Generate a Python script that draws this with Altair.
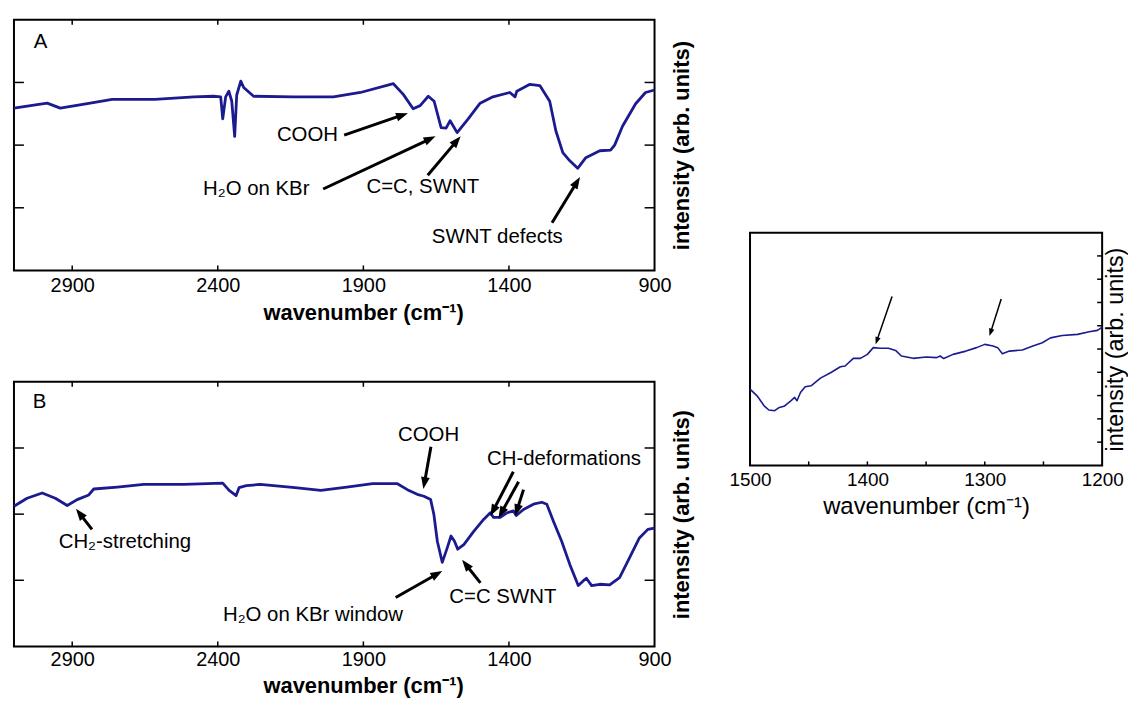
import math
import altair as alt
import pandas as pd

FONT = "Liberation Sans"
LINE_COLOR = "#1b1b8f"

# ---------------- Panel A spectrum ----------------
A_WN = [3100, 2986, 2941, 2838, 2763, 2616, 2482, 2414, 2390, 2383, 2373, 2362, 2352, 2342,
        2335, 2321, 2311, 2277, 2140, 2003, 1910, 1797, 1763, 1729, 1705, 1677, 1657, 1633,
        1616, 1602, 1578, 1540, 1499, 1455, 1397, 1379, 1373, 1328, 1294, 1260, 1239, 1215,
        1191, 1164, 1136, 1088, 1051, 1037, 1010, 965, 931, 900]
A_VAL = [2.59, 2.67, 2.59, 2.67, 2.73, 2.73, 2.77, 2.78, 2.77, 2.42, 2.77, 2.86, 2.70, 2.14,
         2.80, 3.02, 2.92, 2.78, 2.77, 2.77, 2.84, 2.98, 2.81, 2.58, 2.63, 2.78, 2.70, 2.28,
         2.27, 2.39, 2.20, 2.42, 2.67, 2.77, 2.84, 2.77, 2.86, 2.97, 2.95, 2.70, 2.23, 1.88,
         1.75, 1.63, 1.80, 1.91, 1.92, 2.00, 2.30, 2.66, 2.84, 2.88]
A_TEXT = ["A", "COOH", "H\u2082O on KBr", "C=C, SWNT", "SWNT defects"]
A_TEXT_WN = [3009, 2092, 2268, 1696, 1440]
A_TEXT_VAL = [3.65, 2.16, 1.30, 1.33, 0.54]
A_ARROW_TAIL_WN = [1966, 2038, 1679, 1252]
A_ARROW_TAIL_VAL = [2.16, 1.30, 1.52, 0.76]
A_ARROW_HEAD_WN = [1747, 1652, 1566, 1156]
A_ARROW_HEAD_VAL = [2.51, 2.14, 2.14, 1.49]

# ---------------- Panel B spectrum ----------------
B_WN = [3100, 3055, 3003, 2958, 2917, 2883, 2843, 2826, 2745, 2654, 2516, 2383, 2361, 2337,
        2327, 2302, 2254, 2135, 2046, 1957, 1868, 1840, 1783, 1749, 1715, 1692, 1669, 1658,
        1646, 1629, 1612, 1599, 1587, 1576, 1555, 1521, 1487, 1464, 1453, 1430, 1407, 1385,
        1375, 1350, 1316, 1287, 1270, 1247, 1219, 1191, 1162, 1145, 1134, 1116, 1088, 1054,
        1020, 986, 952, 923, 900]
B_VAL = [2.12, 2.24, 2.32, 2.24, 2.13, 2.22, 2.29, 2.38, 2.41, 2.45, 2.45, 2.47, 2.36, 2.28,
         2.40, 2.43, 2.45, 2.40, 2.36, 2.41, 2.46, 2.46, 2.46, 2.37, 2.30, 2.27, 2.22, 2.00,
         1.59, 1.27, 1.49, 1.67, 1.59, 1.47, 1.54, 1.74, 1.92, 2.02, 1.95, 1.95, 2.02, 2.05,
         1.98, 2.07, 2.15, 2.18, 2.15, 1.89, 1.59, 1.24, 0.92, 0.99, 1.03, 0.92, 0.94, 0.93,
         1.04, 1.34, 1.64, 1.77, 1.79]
B_TEXT = ["B", "COOH", "CH-deformations", "CH\u2082-stretching", "H\u2082O on KBr window", "C=C SWNT"]
B_TEXT_WN = [3012, 1676, 1211, 2719, 2073, 1421]
B_TEXT_VAL = [3.70, 3.20, 2.84, 1.58, 0.48, 0.74]
B_ARROW_TAIL_WN = [1668, 1385, 1367, 1350, 2832, 1789, 1498]
B_ARROW_TAIL_VAL = [3.02, 2.64, 2.49, 2.37, 1.77, 0.74, 0.96]
B_ARROW_HEAD_WN = [1694, 1464, 1436, 1379, 2887, 1629, 1561]
B_ARROW_HEAD_VAL = [2.38, 1.97, 1.94, 1.97, 2.08, 1.14, 1.31]

# ---------------- Inset spectrum ----------------
I_WN = [1500, 1494, 1488, 1484, 1479, 1475, 1471, 1465, 1462, 1460, 1457, 1453, 1448, 1440,
        1431, 1423, 1419, 1412, 1406, 1400, 1395, 1389, 1382, 1376, 1371, 1361, 1350, 1341,
        1338, 1335, 1327, 1316, 1307, 1300, 1293, 1289, 1285, 1279, 1268, 1259, 1251, 1244,
        1234, 1221, 1211, 1204, 1200]
I_VAL = [3.28, 2.99, 2.56, 2.38, 2.35, 2.49, 2.54, 2.78, 2.92, 2.78, 3.13, 3.38, 3.42, 3.75,
         3.99, 4.24, 4.27, 4.60, 4.60, 4.77, 5.06, 5.03, 5.03, 4.94, 4.70, 4.60, 4.66, 4.63,
         4.70, 4.59, 4.77, 4.91, 5.06, 5.20, 5.13, 5.06, 4.80, 4.91, 4.96, 5.13, 5.27, 5.48,
         5.58, 5.63, 5.74, 5.80, 5.94]
I_ARROW_TAIL_WN = [1379, 1286]
I_ARROW_TAIL_VAL = [7.26, 7.15]
I_ARROW_HEAD_WN = [1393, 1296]
I_ARROW_HEAD_VAL = [5.20, 5.56]

# ---------------- axes ----------------
AB_XDOMAIN = [900, 3100]
AB_YDOMAIN = [0, 4]
AB_XLABELS = [2900, 2400, 1900, 1400, 900]
AB_XTICKS = [2900, 2400, 1900, 1400]
AB_YTICKS = [1, 2, 3]
I_XDOMAIN = [1200, 1500]
I_YDOMAIN = [0, 10]
I_XLABELS = [1500, 1400, 1300, 1200]
I_XTICKS = [1450, 1400, 1350, 1300, 1250]
I_YTICKS = [1, 2, 3, 4, 5, 6, 7, 8, 9]

X_TITLE = "wavenumber (cm\u207b\u00b9)"
Y_TITLE = "intensity (arb. units)"

ARROW_PATH = "M0,0L0.55,1.5L-0.55,1.5Z"


def arrow_frame(tw, tv, hw, hv, xdom, ydom, W, H, back):
    kx = W / (xdom[1] - xdom[0])
    ky = H / (ydom[1] - ydom[0])
    rows = []
    for a, b, c, d in zip(tw, tv, hw, hv):
        dx = -(c - a) * kx
        dy = -(d - b) * ky
        L = math.hypot(dx, dy)
        ang = math.degrees(math.atan2(dx, -dy)) % 360
        f = back / L
        rows.append({"wn": a, "v": b, "wn_end": c + (a - c) * f, "v_end": d + (b - d) * f,
                     "hx": c, "hy": d, "ang": ang})
    return pd.DataFrame(rows)


def panel(wn, val, texts, tw, tv, hw, hv, xdom, ydom, W, H, xlabels, xticks, yticks,
          bold, line_w, label_fs, x_title_fs, y_title_fs, text_fs, shaft_w, head_size, back,
          xt_len, yt_len, left_ticks, top_ticks, y_title_pad, x_label_pad, x_title_pad,
          x_title_x):
    weight = "bold" if bold else "normal"
    xs = alt.Scale(domain=xdom, reverse=True, nice=False, zero=False)
    ys = alt.Scale(domain=ydom, nice=False, zero=False)
    xaxis = alt.Axis(values=xlabels, ticks=False, domain=False, grid=False, labelFlush=False,
                     labelFontSize=label_fs, labelFont=FONT, labelColor="black",
                     labelPadding=x_label_pad, format="d",
                     title=X_TITLE, titleFont=FONT, titleFontSize=x_title_fs,
                     titleFontWeight=weight, titleColor="black", titlePadding=x_title_pad,
                     titleX=x_title_x)
    yaxis = alt.Axis(orient="right", labels=False, ticks=False, domain=False, grid=False,
                     title=Y_TITLE, titleFont=FONT, titleFontSize=y_title_fs,
                     titleFontWeight=weight, titleColor="black", titleAngle=270,
                     titleBaseline="top", titlePadding=y_title_pad)

    def X(f):
        return alt.X(f, type="quantitative", scale=xs, axis=xaxis)

    def Y(f):
        return alt.Y(f, type="quantitative", scale=ys, axis=yaxis)

    layers = []
    df = pd.DataFrame({"wn": wn, "v": val})
    layers.append(alt.Chart(df).mark_line(color=LINE_COLOR, strokeWidth=line_w,
                                          strokeJoin="round").encode(x=X("wn"), y=Y("v")))
    dxt = pd.DataFrame({"wn": xticks})
    dyt = pd.DataFrame({"v": yticks})
    tick = dict(color="black", strokeWidth=1.5)
    layers.append(alt.Chart(dxt).mark_rule(**tick).encode(
        x=X("wn"), y=alt.value(H), y2=alt.value(H - xt_len)))
    if top_ticks:
        layers.append(alt.Chart(dxt).mark_rule(**tick).encode(
            x=X("wn"), y=alt.value(0), y2=alt.value(xt_len)))
    layers.append(alt.Chart(dyt).mark_rule(**tick).encode(
        y=Y("v"), x=alt.value(W - yt_len), x2=alt.value(W)))
    if left_ticks:
        layers.append(alt.Chart(dyt).mark_rule(**tick).encode(
            y=Y("v"), x=alt.value(0), x2=alt.value(yt_len)))
    if texts is not None:
        dtx = pd.DataFrame({"label": texts[0], "wn": texts[1], "v": texts[2]})
        layers.append(alt.Chart(dtx).mark_text(font=FONT, fontSize=text_fs, color="black",
                                               align="center", baseline="middle").encode(
            x=X("wn"), y=Y("v"), text="label:N"))
    darr = arrow_frame(tw, tv, hw, hv, xdom, ydom, W, H, back)
    layers.append(alt.Chart(darr).mark_rule(color="black", strokeWidth=shaft_w).encode(
        x=X("wn"), x2=alt.X2("wn_end"), y=Y("v"), y2=alt.Y2("v_end")))
    layers.append(alt.Chart(darr).mark_point(shape=ARROW_PATH, filled=True, color="black",
                                             opacity=1, strokeWidth=0, size=head_size).encode(
        x=X("hx"), y=Y("hy"), angle=alt.Angle("ang:Q", scale=None)))
    return alt.layer(*layers).properties(width=W, height=H)


chart_a = panel(A_WN, A_VAL, (A_TEXT, A_TEXT_WN, A_TEXT_VAL),
                A_ARROW_TAIL_WN, A_ARROW_TAIL_VAL, A_ARROW_HEAD_WN, A_ARROW_HEAD_VAL,
                AB_XDOMAIN, AB_YDOMAIN, 644, 252, AB_XLABELS, AB_XTICKS, AB_YTICKS,
                True, 2.8, 20, 22, 22, 20.5, 3, 256, 7, 5, 10, True, True, 17, 5, 7, 351)
chart_b = panel(B_WN, B_VAL, (B_TEXT, B_TEXT_WN, B_TEXT_VAL),
                B_ARROW_TAIL_WN, B_ARROW_TAIL_VAL, B_ARROW_HEAD_WN, B_ARROW_HEAD_VAL,
                AB_XDOMAIN, AB_YDOMAIN, 644, 266, AB_XLABELS, AB_XTICKS, AB_YTICKS,
                True, 2.8, 20, 22, 22, 20.5, 3, 256, 7, 5, 10, True, True, 17, 3, 6, 351)
chart_i = panel(I_WN, I_VAL, None,
                I_ARROW_TAIL_WN, I_ARROW_TAIL_VAL, I_ARROW_HEAD_WN, I_ARROW_HEAD_VAL,
                I_XDOMAIN, I_YDOMAIN, 354, 234, I_XLABELS, I_XTICKS, I_YTICKS,
                False, 1.6, 19, 24, 23.5, 19, 1.5, 100, 4, 4, 5, False, False, 1.5, 5, 5, 177)

spacer = alt.Chart(pd.DataFrame({"a": [0]})).mark_rule(opacity=0, strokeWidth=0).encode(
    x=alt.value(0), y=alt.value(50), y2=alt.value(60)).properties(
    width=1, height=212, view=alt.ViewBackground(stroke="transparent"))

left = alt.vconcat(chart_a, chart_b, spacing=56)
right = alt.vconcat(spacer, chart_i, spacing=0)

chart = alt.hconcat(left, right, spacing=34).properties(
    padding={"left": 3, "top": 8, "right": 0, "bottom": 0},
    background="white",
).configure(font=FONT).configure_view(stroke="black", strokeWidth=2)

chart.save("out.html", embed_options={"renderer": "svg", "actions": False})
